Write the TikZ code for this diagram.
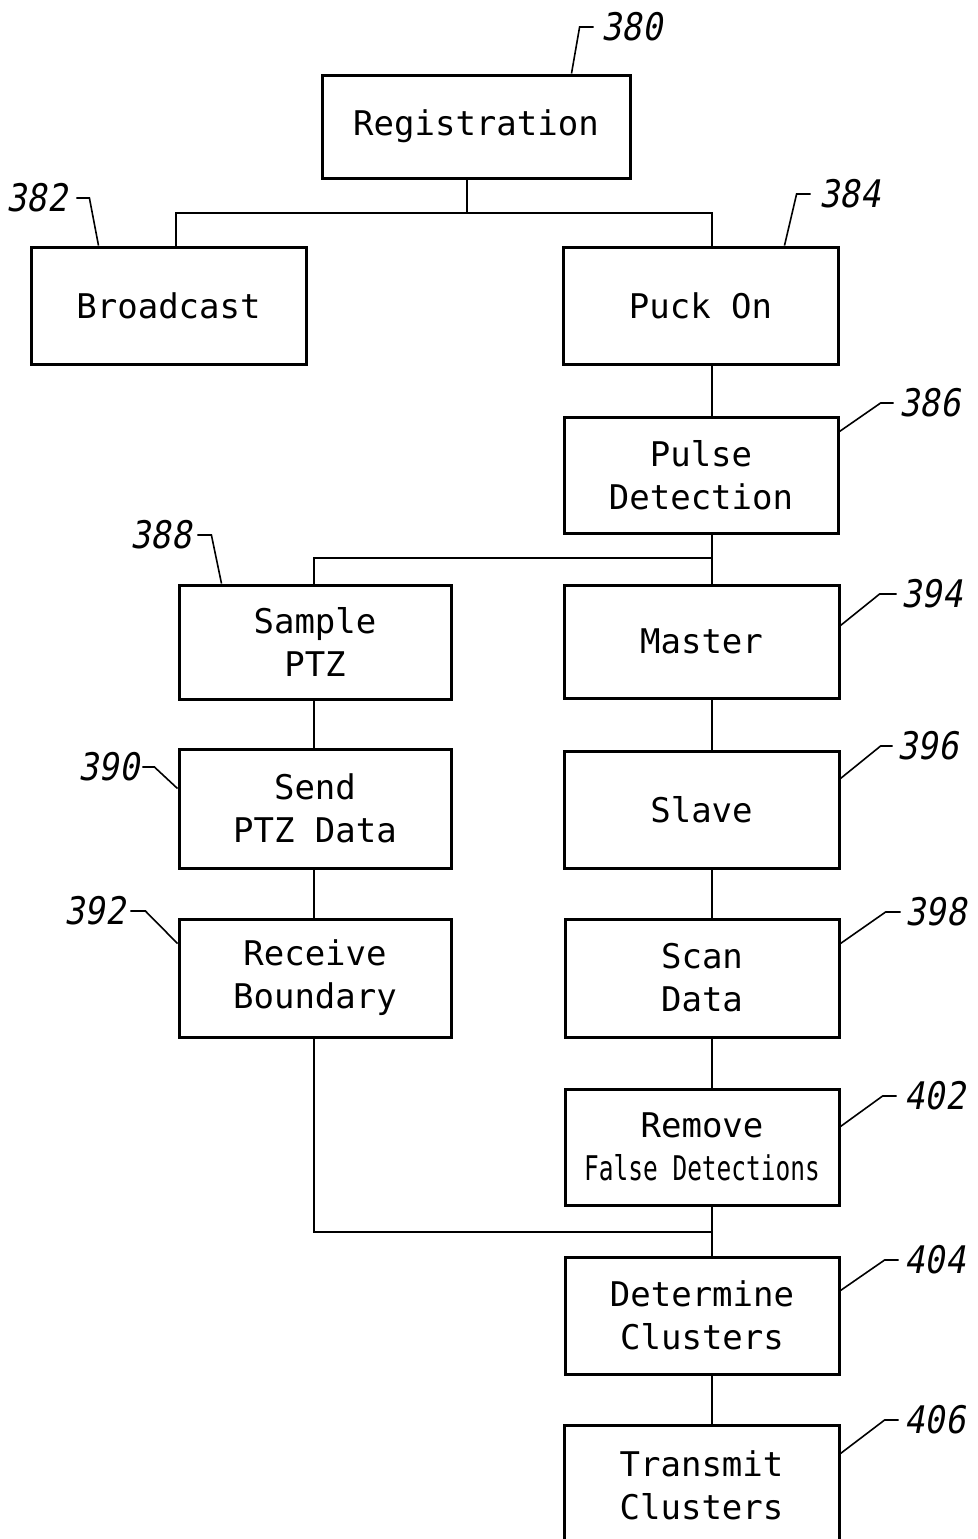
\documentclass[tikz,border=0pt]{standalone}
\usepackage{fontspec}
\usepackage{tikz}
\newfontfamily\boxfont{DejaVu Sans Mono}
\newfontfamily\numfont[FakeStretch=0.88,FakeSlant=0.18]{DejaVu Sans Mono}
\tikzset{
    flow-box/.style = {draw=black, line width=3pt, rectangle, align=center, inner sep=0pt, minimum width=274pt, minimum height=116pt, font=\boxfont\fontsize{34}{43}\selectfont},
    ref-num/.style = {font=\numfont\fontsize{38}{38}\selectfont, inner sep=0pt},
    ref-leader/.style = {draw=black, line width=1.6pt},
    flow-line/.style = {draw=black, line width=2pt},
}

\begin{document}
\begin{tikzpicture}[x=1pt, y=-1pt]
\useasboundingbox (0,0) rectangle (977,1539);

% process boxes
\node[flow-box, minimum width=308pt, minimum height=103pt] (reg) at (476,126.5) {Registration};
\node[flow-box, minimum width=275pt, minimum height=117pt] (bcast) at (168.5,305.5) {Broadcast};
\node[flow-box, minimum width=275pt, minimum height=117pt] (puck) at (700.5,305.5) {Puck On};
\node[flow-box] (pulse) at (701,475) {Pulse\\Detection};
\node[flow-box, minimum width=272pt, minimum height=114pt] (sample) at (315,642) {Sample\\PTZ};
\node[flow-box, minimum width=275pt, minimum height=113pt] (master) at (701.5,641.5) {Master};
\node[flow-box, minimum width=272pt, minimum height=119pt] (send) at (315,808.5) {Send\\PTZ Data};
\node[flow-box, minimum width=275pt, minimum height=117pt] (slave) at (701.5,809.5) {Slave};
\node[flow-box, minimum width=272pt, minimum height=118pt] (recv) at (315,978) {Receive\\Boundary};
\node[flow-box, minimum height=118pt] (scan) at (702,978) {Scan\\Data};
\node[flow-box] (remove) at (702,1147) {Remove\\\scalebox{0.72}[1]{False Detections}};
\node[flow-box, minimum height=117pt] (determ) at (702,1315.5) {Determine\\Clusters};
\node[flow-box, minimum width=275pt, minimum height=120pt] (trans) at (701.5,1485) {Transmit\\Clusters};

% connectors
\coordinate (spine) at (712,0);
\coordinate (left-spine) at (314,0);
\coordinate (reg-split) at (467,213);
\coordinate (pulse-split) at (712,558);
\coordinate (recv-join) at (712,1232);
\draw[flow-line] (reg.south -| reg-split) -- (reg-split);
\draw[flow-line] ([xshift=7.5pt]bcast.north) |- (reg-split) -| (puck.north -| spine);
\draw[flow-line] (pulse-split) -| (sample.north -| left-spine);
\draw[flow-line] (sample.south -| left-spine) -- (send.north -| left-spine);
\draw[flow-line] (send.south -| left-spine) -- (recv.north -| left-spine);
\draw[flow-line] (recv.south -| left-spine) |- (recv-join);
\foreach \a/\b in {puck/pulse, pulse/master, master/slave, slave/scan, scan/remove, remove/determ, determ/trans}
    \draw[flow-line] (\a.south -| spine) -- (\b.north -| spine);

% reference numerals
\node[ref-num] (n380) at (632,27) {380};
\node[ref-num] (n382) at (37,198) {382};
\node[ref-num] (n384) at (850,194) {384};
\node[ref-num] (n386) at (930,403) {386};
\node[ref-num] (n388) at (161,535) {388};
\node[ref-num] (n390) at (109,767) {390};
\node[ref-num] (n392) at (95,911) {392};
\node[ref-num] (n394) at (932,594) {394};
\node[ref-num] (n396) at (928,746) {396};
\node[ref-num] (n398) at (936,912) {398};
\node[ref-num] (n402) at (935,1096) {402};
\node[ref-num] (n404) at (935,1260) {404};
\node[ref-num] (n406) at (935,1420) {406};

\draw[ref-leader] ([xshift=-60pt]reg.north east) -- ([xshift=-22pt]n380.west) -- ([xshift=-8pt]n380.west);
\draw[ref-leader] ([xshift=69pt]bcast.north west) -- ([xshift=22pt]n382.east) -- ([xshift=9pt]n382.east);
\draw[ref-leader] ([xshift=-55pt]puck.north east) -- ([xshift=-23pt]n384.west) -- ([xshift=-9pt]n384.west);
\draw[ref-leader] ([yshift=-16pt]pulse.north east) -- ([xshift=-19pt]n386.west) -- ([xshift=-6pt]n386.west);
\draw[ref-leader] ([xshift=44pt]sample.north west) -- ([xshift=20pt]n388.east) -- ([xshift=6pt]n388.east);
\draw[ref-leader] ([yshift=-41pt]send.north west) -- ([xshift=15pt]n390.east) -- ([xshift=3pt]n390.east);
\draw[ref-leader] ([yshift=-26pt]recv.north west) -- ([xshift=20pt]n392.east) -- ([xshift=5pt]n392.east);
\draw[ref-leader] ([yshift=-42pt]master.north east) -- ([xshift=-22pt]n394.west) -- ([xshift=-5pt]n394.west);
\draw[ref-leader] ([yshift=-29pt]slave.north east) -- ([xshift=-17pt]n396.west) -- ([xshift=-5pt]n396.west);
\draw[ref-leader] ([yshift=-26pt]scan.north east) -- ([xshift=-20pt]n398.west) -- ([xshift=-5pt]n398.west);
\draw[ref-leader] ([yshift=-39pt]remove.north east) -- ([xshift=-22pt]n402.west) -- ([xshift=-8pt]n402.west);
\draw[ref-leader] ([yshift=-35pt]determ.north east) -- ([xshift=-20pt]n404.west) -- ([xshift=-6pt]n404.west);
\draw[ref-leader] ([yshift=-30pt]trans.north east) -- ([xshift=-20pt]n406.west) -- ([xshift=-6pt]n406.west);
\end{tikzpicture}
\end{document}
